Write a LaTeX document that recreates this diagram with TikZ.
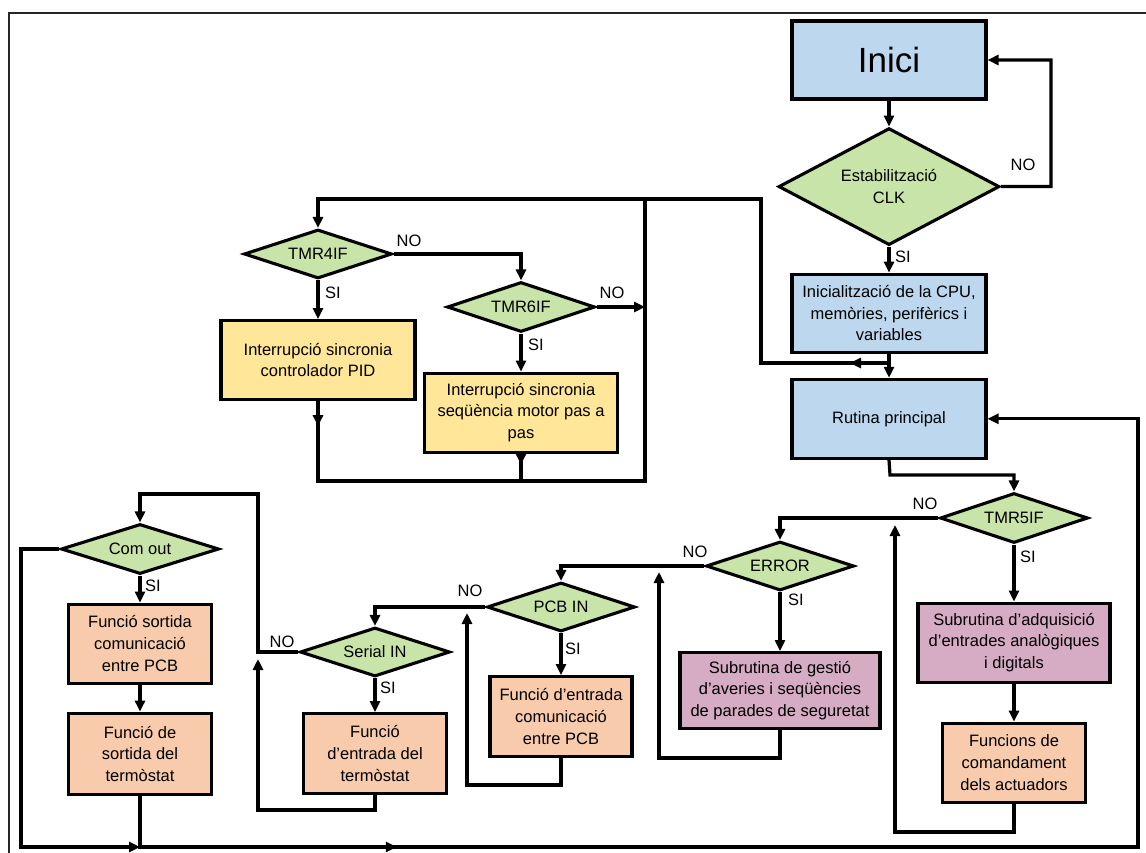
\documentclass[tikz,border=0pt]{standalone}
\usepackage{fontspec}
\setmainfont{Liberation Sans}
\usepackage{tikz}
\usetikzlibrary{positioning,shapes.geometric,arrows.meta,decorations.markings}

\definecolor{caixablau}{RGB}{189,215,238}
\definecolor{rombeverd}{RGB}{200,228,168}
\definecolor{caixagroc}{RGB}{255,230,153}
\definecolor{caixasalmo}{RGB}{248,203,173}
\definecolor{caixarosa}{RGB}{214,172,196}

\tikzset{
  caixa/.style={draw, line width=3.1pt, align=center, inner sep=2pt, minimum height=79pt},
  blau/.style={caixa, fill=caixablau},
  groc/.style={caixa, fill=caixagroc},
  salmo/.style={caixa, fill=caixasalmo},
  rosa/.style={caixa, fill=caixarosa},
  rombe/.style={diamond, draw, line width=3.1pt, fill=rombeverd, aspect=3, inner sep=0pt,
                minimum width=148pt, minimum height=49pt, align=center},
  lbl/.style={inner sep=0pt},
  linia/.style={line width=3.2pt},
  fletxa/.style={linia, -{Triangle[length=11pt,width=10pt]}},
  midarrow/.style={linia, postaction={decorate},
    decoration={markings, mark=at position #1 with {\arrow{Triangle[length=11pt,width=10pt]}}}},
}

\begin{document}
\begin{tikzpicture}[x=1pt, y=-1pt, every node/.style={font=\fontsize{16.5}{21.7}\selectfont}]
   \useasboundingbox (0,0) rectangle (1146,853);
   % marc
   \draw[line width=1.8pt, black!85] (9,853) -- (9,13) -- (1146,13);

   % columna principal
   \node[blau, minimum width=194pt, minimum height=78pt, font=\fontsize{35}{40}\selectfont] (inici) at (889,60) {Inici};
   \node[rombe, minimum width=221pt, minimum height=117pt, aspect=1.9] (estab) [below=26pt of inici] {Estabilització\\CLK};
   \node[blau, minimum width=194pt, minimum height=78pt] (init) [below=26pt of estab] {Inicialització de la CPU,\\memòries, perifèrics i\\variables};
   \node[blau, minimum width=194pt] (rutina) [below=24pt of init] {Rutina principal};

   % interrupcions
   \node[rombe] (tmr4) at (318,254) {TMR4IF};
   \node[groc, minimum width=194pt] (pid) [below=39pt of tmr4] {Interrupció sincronia\\controlador PID};
   \node[rombe, minimum height=50pt] (tmr6) at (521,307) {TMR6IF};
   \node[groc, minimum width=193pt] (pas) [below=38pt of tmr6] {Interrupció sincronia\\seqüència motor pas a\\pas};

   % rutina principal
   \node[rombe, minimum height=50pt] (tmr5) at (1014,518) {TMR5IF};
   \node[rosa, minimum width=192pt] (adq) [below=57pt of tmr5] {Subrutina d’adquisició\\d’entrades analògiques\\i digitals};
   \node[salmo, minimum width=143pt] (coman) [below=38pt of adq] {Funcions de\\comandament\\dels actuadors};
   \node[rombe] (error) at (780,566) {ERROR};
   \node[rosa, minimum width=200pt, minimum height=76pt] (gestio) [below=59pt of error] {Subrutina de gestió\\d’averies i seqüències\\de parades de seguretat};
   \node[rombe] (pcbin) at (561,607) {PCB IN};
   \node[salmo, minimum width=142pt, minimum height=80pt] (entpcb) [below=42pt of pcbin] {Funció d’entrada\\comunicació\\entre PCB};
   \node[rombe, minimum width=150pt] (serial) at (375,652) {Serial IN};
   \node[salmo, minimum width=143pt, minimum height=80pt] (entterm) [below=34pt of serial] {Funció\\d’entrada del\\termòstat};
   \node[rombe, minimum width=158pt, minimum height=50pt] (comout) at (140,549) {Com out};
   \node[salmo, minimum width=143pt] (sortpcb) [below=27pt of comout] {Funció sortida\\comunicació\\entre PCB};
   \node[salmo, minimum width=143pt, minimum height=81pt] (sortterm) [below=27pt of sortpcb] {Funció de\\sortida del\\termòstat};

   % SI / NO
   \node[lbl] (noestab) at (1023,165) {NO};
   \node[lbl] (siestab) at (903,257) {SI};
   \node[lbl] (no4) at (409,241) {NO};
   \node[lbl] (si4) at (333,293) {SI};
   \node[lbl] (no6) at (612,293) {NO};
   \node[lbl] (si6) at (536,345) {SI};
   \node[lbl] (no5) at (925,504) {NO};
   \node[lbl] (si5) at (1028,557) {SI};
   \node[lbl] (noerr) at (695,552) {NO};
   \node[lbl] (sierr) at (796,600) {SI};
   \node[lbl] (nopcb) at (470,591) {NO};
   \node[lbl] (sipcb) at (573,649) {SI};
   \node[lbl] (noser) at (282,642) {NO};
   \node[lbl] (siser) at (388,688) {SI};
   \node[lbl] (sicom) at (153,586) {SI};

   \coordinate (j1) at (890,363);
   \coordinate (fi6) at (645,307);
   \coordinate (ret5) at (895,525);
   \coordinate (reterr) at (659,572);
   \coordinate (retpcb) at (467,613);
   \coordinate (retser) at (258,659);
   \coordinate (bus) at (140,847);

   \draw[fletxa] (inici) -- (estab);
   \draw[fletxa] (estab.east) -- (1051,186.5) |- (inici.east);
   \draw[fletxa] (estab) -- (init);
   \draw[fletxa] (init) -- (rutina);

   \draw[fletxa, midarrow=40pt] (j1) -- (761,363) -- (761,199) -| (tmr4.north);
   \draw[fletxa] (tmr4.east) -| (tmr6.north);
   \draw[fletxa] (tmr4) -- (pid);
   \draw[fletxa] (tmr6) -- (pas);
   \draw[fletxa] (tmr6.east) -- (fi6);
   \draw[midarrow=25pt] (pid.south) |- (645,481) -- (645,199);
   \draw[midarrow=11pt] (pas.south) -- (521,481);

   \draw[fletxa] (rutina.south) -- (890,475) -| (tmr5.north);
   \draw[fletxa] (tmr5.west) -| (error.north);
   \draw[fletxa] (tmr5) -- (adq);
   \draw[fletxa] (adq) -- (coman);
   \draw[fletxa] (coman.south) |- (895,832) -- (ret5);

   \draw[fletxa] (error.west) -| (pcbin.north);
   \draw[fletxa] (error) -- (gestio);
   \draw[fletxa] (gestio.south) |- (659,758) -- (reterr);

   \draw[fletxa] (pcbin.west) -| (serial.north);
   \draw[fletxa] (pcbin) -- (entpcb);
   \draw[fletxa] (entpcb.south) |- (467,785) -- (retpcb);

   \draw[fletxa] (serial.west) -| (258,494) -| (comout.north);
   \draw[fletxa] (serial) -- (entterm);
   \draw[fletxa] (entterm.south) |- (258,810) -- (retser);

   \draw[fletxa] (comout) -- (sortpcb);
   \draw[fletxa] (sortpcb) -- (sortterm);
   \draw[fletxa] (comout.west) -- (21,549) |- (bus);
   \draw[fletxa, midarrow=308pt] (sortterm.south) |- (1138,847) |- (rutina.east);
\end{tikzpicture}
\end{document}
